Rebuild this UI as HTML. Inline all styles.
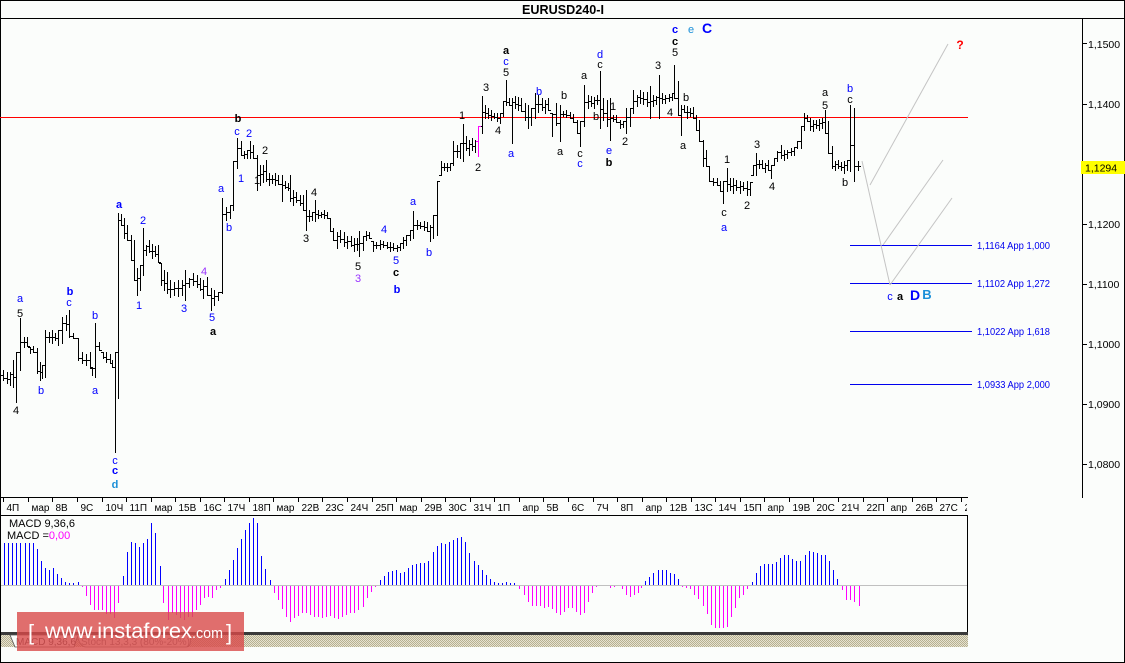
<!DOCTYPE html>
<html><head><meta charset="utf-8">
<style>
html,body{margin:0;padding:0;background:#fbfdfb;}
svg{display:block;}
text{font-family:"Liberation Sans",sans-serif;}
.l{font-size:11px;text-anchor:middle;}
.b{font-weight:bold;}
.bl{fill:#0000ff;}
.bk{fill:#000;}
.pu{fill:#9933ff;}
.cy{fill:#1a8fd8;}
.ax{font-size:10.5px;fill:#000;}
.tx{font-size:10px;fill:#000;}
.fb{font-size:10px;fill:#0000ee;}
</style></head><body>
<svg id="s" width="1125" height="663" viewBox="0 0 1125 663" xmlns="http://www.w3.org/2000/svg">
<defs>
<pattern id="h" width="2" height="2" patternUnits="userSpaceOnUse">
<rect width="2" height="2" fill="#e6e2d0"/>
<rect width="1" height="1" fill="#b6b090"/>
<rect x="1" y="1" width="1" height="1" fill="#b6b090"/>
</pattern>
</defs>
<rect width="1125" height="663" fill="#fbfdfb"/>

<!-- frame -->
<g stroke="#000" stroke-width="1" shape-rendering="crispEdges" fill="none">
<line x1="0.5" y1="0" x2="0.5" y2="663"/>
<line x1="0" y1="0.5" x2="1125" y2="0.5"/>
<line x1="1124.5" y1="0" x2="1124.5" y2="663"/>
<line x1="0" y1="662.5" x2="1125" y2="662.5"/>
<line x1="0" y1="18.5" x2="1125" y2="18.5"/>
<line x1="1082.5" y1="18" x2="1082.5" y2="498"/>
<line x1="0" y1="497.5" x2="968" y2="497.5"/>
<line x1="0" y1="515.5" x2="968" y2="515.5"/>
<line x1="967.5" y1="515" x2="967.5" y2="633"/>
</g>

<text x="563" y="14" class="b" font-size="12.5" text-anchor="middle" textLength="82" lengthAdjust="spacingAndGlyphs">EURUSD240-I</text>

<!-- price axis -->
<g stroke="#000" shape-rendering="crispEdges">
<line x1="1082" y1="43.5" x2="1087" y2="43.5"/>
<line x1="1082" y1="104.5" x2="1087" y2="104.5"/>
<line x1="1082" y1="164.5" x2="1087" y2="164.5"/>
<line x1="1082" y1="224.5" x2="1087" y2="224.5"/>
<line x1="1082" y1="284.5" x2="1087" y2="284.5"/>
<line x1="1082" y1="344.5" x2="1087" y2="344.5"/>
<line x1="1082" y1="404.5" x2="1087" y2="404.5"/>
<line x1="1082" y1="464.5" x2="1087" y2="464.5"/>
</g>
<g class="ax">
<text x="1088" y="48">1,1500</text>
<text x="1088" y="108">1,1400</text>
<text x="1088" y="228">1,1200</text>
<text x="1088" y="288">1,1100</text>
<text x="1088" y="348">1,1000</text>
<text x="1088" y="408">1,0900</text>
<text x="1088" y="468">1,0800</text>
</g>
<rect x="1081" y="161" width="44" height="13" fill="#ffff00"/>
<text x="1085" y="171.5" class="ax">1,1294</text>

<!-- red horizontal -->
<line x1="0" y1="117.5" x2="968" y2="117.5" stroke="#ff0000" stroke-width="1" shape-rendering="crispEdges"/>

<!-- fib lines -->
<g stroke="#0000ee" stroke-width="1" shape-rendering="crispEdges">
<line x1="850" y1="245.5" x2="972" y2="245.5"/>
<line x1="850" y1="283.5" x2="972" y2="283.5"/>
<line x1="850" y1="331.5" x2="972" y2="331.5"/>
<line x1="850" y1="384.5" x2="972" y2="384.5"/>
</g>
<g class="fb">
<text x="977" y="249" textLength="73" lengthAdjust="spacingAndGlyphs">1,1164 App 1,000</text>
<text x="977" y="287" textLength="73" lengthAdjust="spacingAndGlyphs">1,1102 App 1,272</text>
<text x="977" y="335" textLength="73" lengthAdjust="spacingAndGlyphs">1,1022 App 1,618</text>
<text x="977" y="388" textLength="73" lengthAdjust="spacingAndGlyphs">1,0933 App 2,000</text>
</g>

<!-- gray projection lines -->
<g stroke="#c4c4c4" stroke-width="1" fill="none">
<line x1="862" y1="161" x2="890" y2="285"/>
<line x1="870" y1="185" x2="948" y2="44"/>
<line x1="883" y1="245" x2="943" y2="160"/>
<line x1="890" y1="285" x2="952" y2="198"/>
</g>

<g id="bars" stroke="#000" stroke-width="1" shape-rendering="crispEdges" fill="none"></g>

<!-- wave labels -->
<g class="l">
<text x="20" y="302" class="bl">a</text>
<text x="20" y="317" class="bk">5</text>
<text x="16" y="414" class="bk">4</text>
<text x="41" y="394" class="bl">b</text>
<text x="70" y="295" class="bl b">b</text>
<text x="69" y="306" class="bl">c</text>
<text x="95" y="319" class="bl">b</text>
<text x="95" y="394" class="bl">a</text>
<text x="115" y="464" class="bl">c</text>
<text x="115" y="474" class="bl b">c</text>
<text x="115" y="488" class="cy b">d</text>
<text x="119" y="208" class="bl b">a</text>
<text x="143" y="224" class="bl">2</text>
<text x="139" y="309" class="bl">1</text>
<text x="184" y="312" class="bl">3</text>
<text x="204" y="275" class="pu">4</text>
<text x="212" y="321" class="bl">5</text>
<text x="213" y="335" class="bk b">a</text>
<text x="221" y="192" class="bl">a</text>
<text x="229" y="231" class="bl">b</text>
<text x="238" y="122" class="bk b">b</text>
<text x="237" y="135" class="bl">c</text>
<text x="249" y="137" class="bl">2</text>
<text x="241" y="182" class="bl">1</text>
<text x="265" y="154" class="bk">2</text>
<text x="257" y="184" class="bk">1</text>
<text x="306" y="242" class="bk">3</text>
<text x="314" y="196" class="bk">4</text>
<text x="358" y="270" class="bk">5</text>
<text x="358" y="282" class="pu">3</text>
<text x="384" y="233" class="bl">4</text>
<text x="396" y="264" class="bl">5</text>
<text x="396" y="276" class="bk b">c</text>
<text x="397" y="293" class="bl b">b</text>
<text x="413" y="205" class="bl">a</text>
<text x="429" y="256" class="bl">b</text>
<text x="462" y="119" class="bk">1</text>
<text x="478" y="171" class="bk">2</text>
<text x="486" y="91" class="bk">3</text>
<text x="498" y="134" class="bk">4</text>
<text x="506" y="54" class="bk b">a</text>
<text x="506" y="65" class="bl">c</text>
<text x="506" y="76" class="bk">5</text>
<text x="511" y="157" class="bl">a</text>
<text x="539" y="95" class="bl">b</text>
<text x="564" y="99" class="bk">b</text>
<text x="560" y="155" class="bk">a</text>
<text x="584" y="79" class="bk">a</text>
<text x="580" y="157" class="bk">c</text>
<text x="580" y="167" class="bl">c</text>
<text x="600" y="58" class="bl">d</text>
<text x="600" y="68" class="bk">c</text>
<text x="596" y="120" class="bk">b</text>
<text x="613" y="110" class="bk">1</text>
<text x="609" y="154" class="bl">e</text>
<text x="609" y="166" class="bk b">b</text>
<text x="625" y="145" class="bk">2</text>
<text x="658" y="69" class="bk">3</text>
<text x="670" y="116" class="bk">4</text>
<text x="675" y="33" class="bl b">c</text>
<text x="675" y="45" class="bk b">c</text>
<text x="675" y="56" class="bk">5</text>
<text x="691" y="33" class="cy">e</text>
<text x="707" y="33" class="bl b" font-size="14">C</text>
<text x="686" y="101" class="bk">b</text>
<text x="683" y="149" class="bk">a</text>
<text x="727" y="163" class="bk">1</text>
<text x="724" y="216" class="bk">c</text>
<text x="724" y="231" class="bl">a</text>
<text x="757" y="148" class="bk">3</text>
<text x="772" y="190" class="bk">4</text>
<text x="747" y="209" class="bk">2</text>
<text x="825" y="96" class="bk">a</text>
<text x="825" y="109" class="bk">5</text>
<text x="850" y="92" class="bl">b</text>
<text x="850" y="103" class="bk">c</text>
<text x="845" y="186" class="bk">b</text>
<text x="890" y="300" class="bl">c</text>
<text x="900" y="300" class="bk b">a</text>
<text x="915" y="300" class="bl b" font-size="14">D</text>
<text x="927" y="299" class="cy b" font-size="13">B</text>
<text x="960" y="49" class="b" fill="#ff0000" font-size="12">?</text>
</g>

<!-- time axis -->
<g id="tt" stroke="#000" shape-rendering="crispEdges"></g>
<g id="tl" class="tx"></g>

<!-- MACD -->
<line x1="1" y1="585.5" x2="967" y2="585.5" stroke="#c0c0c0" shape-rendering="crispEdges"/>
<g id="macd" stroke-width="1" shape-rendering="crispEdges"></g>
<text x="9" y="527" font-size="11" fill="#000">MACD 9,36,6</text>
<text x="7" y="539" font-size="11" fill="#000">MACD =<tspan fill="#ff00ff">0,00</tspan></text>

<!-- tabs / hatch -->
<rect x="1" y="632" width="967" height="3" fill="#3a3a3a"/>
<rect x="1" y="635" width="967" height="12" fill="url(#h)"/>
<polygon points="10,635 15,647 74,647 78,635" fill="#fbfdfb" stroke="#555" stroke-width="0.8"/>
<path d="M77,635 Q80,647 86,647 L186,647 Q192,647 190,635" fill="#f0eee4" stroke="#777" stroke-width="0.8"/>
<text x="16" y="645" font-size="10" fill="#444">MACD 9,36,6</text>
<text x="81" y="645" font-size="10" fill="#777">Stoch 13,3,3 (80%-20%)</text>

<!-- watermark -->
<rect x="17" y="612" width="227" height="39" fill="#d94a4a" opacity="0.8"/>
<text x="28" y="640" font-size="22" fill="#fff">[</text>
<text x="45" y="638" font-size="21" fill="#fff" textLength="147" lengthAdjust="spacingAndGlyphs">www.instaforex</text>
<text x="192" y="638" font-size="15" fill="#fff" textLength="31" lengthAdjust="spacingAndGlyphs">.com</text>
<text x="226" y="640" font-size="22" fill="#fff">]</text>
</svg>
<script>
(function(){
var NS="http://www.w3.org/2000/svg";
var A=[[3,370,380],[7,372,383],[10,372,385],[13,360,387],[16,352,402],[20,318,370],[24,337,347],[27,337,346],[30,347,353],[33,346,352],[37,348,373],[40,362,380],[42,365,378],[45,330,377],[49,332,342],[52,330,343],[55,333,340],[58,330,345],[62,317,343],[66,315,330],[69,310,337],[73,333,338],[78,338,360],[82,352,363],[86,354,365],[90,352,367],[92,368,375],[95,323,377],[99,342,350],[103,352,358],[106,352,362],[110,354,363],[112,360,367],[115,352,452],[118,213,398],[121,214,225],[124,218,238],[127,225,240],[131,235,260],[134,240,280],[137,268,295],[140,265,290],[143,228,275],[146,245,255],[149,240,252],[152,244,258],[155,246,256],[158,245,262],[161,263,285],[164,270,290],[167,272,293],[170,280,297],[174,282,295],[178,280,296],[182,280,295],[185,270,300],[189,278,287],[193,273,285],[197,275,287],[200,278,290],[203,280,298],[207,277,295],[211,288,310],[214,290,305],[218,292,300],[222,198,293],[226,207,220],[230,205,218],[233,161,210],[237,138,168],[241,141,155],[244,151,158],[247,150,158],[250,141,158],[253,145,158],[257,155,190],[260,165,185],[263,165,182],[266,160,181],[269,173,185],[272,175,183],[275,173,185],[278,175,184],[282,175,201],[285,181,188],[288,183,190],[290,175,201],[293,190,205],[296,192,202],[300,195,205],[303,195,210],[306,190,230],[309,210,221],[312,212,220],[315,200,221],[318,210,218],[321,212,217],[324,210,218],[327,212,218],[330,218,231],[333,228,240],[337,232,248],[340,230,242],[344,232,246],[347,236,248],[351,236,246],[354,238,251],[357,238,250],[359,231,256],[363,236,250],[366,231,240],[369,232,238],[373,241,251],[376,242,248],[380,240,249],[383,241,247],[387,242,248],[390,242,251],[393,243,250],[397,245,251],[400,243,250],[403,237,248],[406,235,245],[410,230,240],[413,211,238],[417,220,229],[420,222,228],[424,221,230],[427,222,231],[430,225,241],[433,215,238],[437,181,235],[441,161,175],[444,163,170],[447,163,171],[450,163,170],[453,141,165],[457,145,157],[460,143,158],[463,124,161],[466,136,150],[469,140,155],[472,138,150],[475,140,152],[478,126,156,1],[482,96,133],[485,105,118],[488,108,118],[491,110,120],[494,113,118],[497,113,121],[500,113,123],[503,101,116],[506,80,105],[509,98,105],[512,98,143],[515,96,108],[518,97,110],[521,98,111],[525,103,120],[528,105,128],[531,108,125],[535,93,118],[538,95,112],[542,98,110],[545,100,113],[548,98,110],[552,113,136],[556,103,125],[560,105,141],[563,111,116],[566,110,117],[570,112,118],[573,114,122],[577,120,133],[580,121,146],[584,85,126],[588,95,108],[591,96,106],[594,97,108],[597,95,104],[600,71,128],[603,98,120],[607,100,126],[610,98,140],[613,115,121],[616,115,122],[620,120,128],[623,121,127],[626,108,133],[630,108,126],[633,90,113],[637,95,106],[640,90,103],[643,92,104],[647,92,106],[650,86,118],[653,95,106],[656,96,104],[659,75,118],[662,93,103],[665,95,103],[669,94,101],[672,93,100],[674,65,98],[678,81,115],[681,105,135],[684,105,112],[687,106,118],[690,108,116],[693,107,118],[696,115,130],[699,120,141],[703,140,166],[706,150,166],[709,166,181],[713,178,185],[717,178,185],[720,181,191],[723,181,203],[727,168,191],[730,178,190],[733,178,193],[736,180,190],[740,181,193],[743,182,190],[747,181,195],[750,182,195],[753,165,175],[756,153,175],[759,160,168],[762,160,168],[765,163,172],[768,160,170],[771,165,178],[774,158,165],[777,151,161],[781,145,158],[784,150,160],[787,150,158],[791,148,155],[794,147,155],[797,141,148],[801,126,148],[804,113,130],[807,115,121],[810,118,130],[813,120,131],[816,120,128],[819,119,130],[822,118,128],[825,110,133],[828,121,153],[832,146,168],[835,161,170],[838,160,168],[841,162,170],[844,161,173],[847,160,170],[850,105,171],[854,108,181],[858,161,170]];
function cl(v,a,b){return Math.max(a,Math.min(b,v));}
var d="",dm="",pc=null;
for(var i=0;i<A.length;i++){
 var x=A[i][0]+0.5,h=A[i][1],l=A[i][2];
 var nx=A[i+1]||A[i];
 var c=Math.round(cl((nx[1]+nx[2])/2,h,l));
 var o=Math.round(pc===null?(h+l)/2:cl(pc,h,l));
 pc=c;
 var s="M"+x+" "+h+"V"+(l+1)+"M"+(x-2.5)+" "+(o+0.5)+"H"+x+"M"+x+" "+(c+0.5)+"H"+(x+2.5);
 if(A[i][3])dm+=s;else d+=s;
}
var g=document.getElementById("bars");
var p=document.createElementNS(NS,"path");p.setAttribute("d",d);g.appendChild(p);
var p2=document.createElementNS(NS,"path");p2.setAttribute("d",dm);p2.setAttribute("stroke","#ff00ff");g.appendChild(p2);

var M=[[4,543],[8,543],[12,543],[16,543],[20,543],[25,543],[29,543],[33,543],[37,549],[41,561],[45,568],[49,570],[53,568],[57,574],[61,578],[65,582],[69,583],[73,583],[78,582],[82,587],[86,596],[90,605],[94,610],[98,610],[102,610],[106,614],[110,614],[114,618],[118,603],[123,576],[127,552],[131,542],[135,543],[139,547],[143,543],[147,539],[151,523],[155,533],[160,566],[163,603],[168,620],[172,613],[176,615],[180,618],[184,620],[188,617],[192,617],[196,610],[200,605],[204,598],[208,597],[212,598],[216,590],[220,588],[225,579],[229,570],[233,560],[237,548],[241,539],[245,530],[249,523],[253,518],[257,523],[261,556],[265,569],[270,580],[274,593],[278,600],[282,609],[286,617],[290,622],[294,618],[298,616],[302,613],[306,613],[310,615],[314,617],[318,617],[322,618],[326,617],[330,616],[334,618],[338,619],[342,617],[346,615],[350,613],[354,613],[358,610],[363,607],[367,598],[371,592],[375,587],[380,580],[384,576],[388,572],[392,571],[396,570],[400,573],[404,572],[408,568],[412,565],[416,564],[420,563],[424,563],[428,561],[433,552],[437,546],[441,543],[445,544],[449,542],[453,540],[457,538],[461,537],[465,542],[469,553],[474,561],[478,565],[482,570],[486,575],[490,579],[494,582],[498,583],[502,583],[506,582],[510,583],[514,583],[519,589],[524,595],[528,602],[532,606],[536,606],[540,606],[544,608],[548,607],[552,609],[556,613],[560,615],[564,612],[568,608],[572,608],[576,612],[580,615],[584,613],[588,602],[592,593],[596,587],[610,588],[614,587],[622,589],[626,595],[630,597],[634,595],[638,593],[641,588],[645,581],[649,577],[653,573],[658,570],[662,570],[666,570],[670,573],[674,574],[678,579],[682,587],[686,588],[690,589],[694,595],[698,599],[703,606],[707,614],[711,625],[715,628],[719,628],[723,628],[727,627],[731,617],[735,608],[739,598],[743,595],[747,589],[752,582],[756,573],[760,566],[764,564],[768,564],[772,564],[776,562],[780,558],[784,555],[788,555],[792,559],[796,561],[800,561],[805,555],[809,551],[813,552],[817,553],[821,555],[825,555],[829,561],[833,570],[837,579],[842,590],[846,600],[850,600],[854,602],[859,606]];
var db="",dn="";
for(var j=0;j<M.length;j++){
 var mx=M[j][0]+0.5,my=M[j][1];
 if(my<585){db+="M"+mx+" 585V"+my;}else if(my>586){dn+="M"+mx+" 586V"+my;}
}
var mg=document.getElementById("macd");
var q1=document.createElementNS(NS,"path");q1.setAttribute("d",db);q1.setAttribute("stroke","#0000ff");mg.appendChild(q1);
var q2=document.createElementNS(NS,"path");q2.setAttribute("d",dn);q2.setAttribute("stroke","#ff00ff");mg.appendChild(q2);

var L=["4П","мар","8В","9С","10Ч","11П","мар","15В","16С","17Ч","18П","мар","22В","23С","24Ч","25П","мар","29В","30С","31Ч","1П","апр","5В","6С","7Ч","8П","апр","12В","13С","14Ч","15П","апр","19В","20С","21Ч","22П","апр","26В","27С","28"];
var tt=document.getElementById("tt"),tl=document.getElementById("tl"),td="";
for(var k=0;k<L.length;k++){
 var tx=Math.round(3.3+24.55*k)+0.5;
 td+="M"+tx+" 497V502";
 var t=document.createElementNS(NS,"text");
 t.setAttribute("x",tx+3);t.setAttribute("y",511);
 t.textContent=L[k];tl.appendChild(t);
}
var tp=document.createElementNS(NS,"path");tp.setAttribute("d",td);tt.appendChild(tp);
var cp=document.createElementNS(NS,"clipPath");cp.setAttribute("id","tc");
var cr=document.createElementNS(NS,"rect");cr.setAttribute("x",0);cr.setAttribute("y",490);cr.setAttribute("width",967);cr.setAttribute("height",30);
cp.appendChild(cr);document.querySelector("defs").appendChild(cp);
tl.setAttribute("clip-path","url(#tc)");
})();
</script>
</body></html>
